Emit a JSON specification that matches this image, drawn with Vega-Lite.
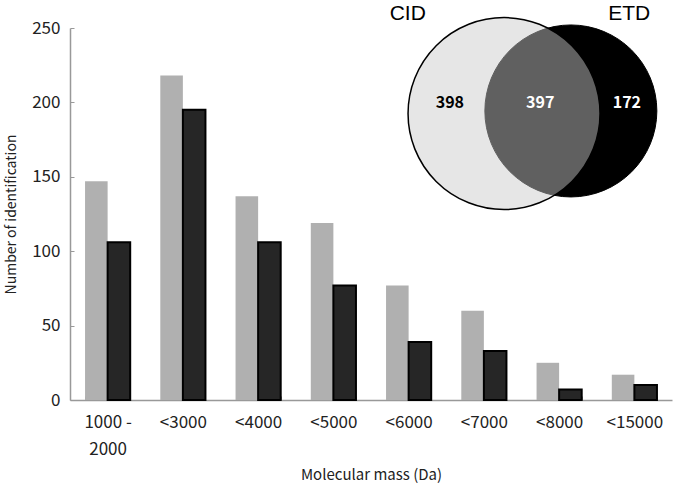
{
  "$schema": "https://vega.github.io/schema/vega-lite/v6.json",
  "autosize": "none",
  "width": 602,
  "height": 372,
  "padding": {"left": 70, "top": 28, "right": 4, "bottom": 88},
  "background": "white",
  "config": {"view": {"stroke": null}, "axis": {"grid": false}},
  "datasets": {
    "bars": [
      {"mass": "1000 - 2000", "series": "CID", "count": 147},
      {"mass": "1000 - 2000", "series": "ETD", "count": 106},
      {"mass": "<3000", "series": "CID", "count": 218},
      {"mass": "<3000", "series": "ETD", "count": 195},
      {"mass": "<4000", "series": "CID", "count": 137},
      {"mass": "<4000", "series": "ETD", "count": 106},
      {"mass": "<5000", "series": "CID", "count": 119},
      {"mass": "<5000", "series": "ETD", "count": 77},
      {"mass": "<6000", "series": "CID", "count": 77},
      {"mass": "<6000", "series": "ETD", "count": 39},
      {"mass": "<7000", "series": "CID", "count": 60},
      {"mass": "<7000", "series": "ETD", "count": 33},
      {"mass": "<8000", "series": "CID", "count": 25},
      {"mass": "<8000", "series": "ETD", "count": 7},
      {"mass": "<15000", "series": "CID", "count": 17},
      {"mass": "<15000", "series": "ETD", "count": 10}
    ],
    "circles": [
      {"set": "ETD", "cx": 83.2, "cy": 77.7},
      {"set": "CID", "cx": 72.1, "cy": 77.0}
    ],
    "names": [
      {"label": "CID", "tx": 56.1, "ty": 103.8},
      {"label": "ETD", "tx": 92.9, "ty": 103.8}
    ],
    "counts": [
      {"label": "398", "region": "CID only", "tx": 63.1, "ty": 79.8},
      {"label": "397", "region": "both", "tx": 78.1, "ty": 79.8},
      {"label": "172", "region": "ETD only", "tx": 92.5, "ty": 79.8}
    ]
  },
  "layer": [
    {
      "data": {"name": "bars"},
      "mark": {"type": "bar", "stroke": "black"},
      "encoding": {
        "x": {
          "field": "mass", "type": "nominal", "sort": null,
          "scale": {"paddingInner": 0.4, "paddingOuter": 0.2},
          "axis": {
            "title": "Molecular mass (Da)",
            "labelAngle": 0,
            "tickBand": "extent",
            "tickSize": -4,
            "tickColor": "#999",
            "domainColor": "#999",
            "domainWidth": 1.5,
            "labelPadding": 18,
            "labelFont": "Noto Sans CJK JP",
            "labelFontSize": 17,
            "labelColor": "#222",
            "labelLineHeight": 27,
            "labelExpr": "datum.value == '1000 - 2000' ? ['1000 -', '2000'] : datum.value",
            "titleFont": "Noto Sans CJK JP",
            "titleFontSize": 15,
            "titleFontWeight": "normal",
            "titleColor": "#222",
            "titleY": 74,
            "titleBaseline": "middle"
          }
        },
        "xOffset": {"field": "series", "type": "nominal", "scale": {"paddingInner": 0}},
        "y": {
          "field": "count", "type": "quantitative",
          "scale": {"domain": [0, 250], "nice": false},
          "axis": {
            "title": "Number of identification",
            "values": [0, 50, 100, 150, 200, 250],
            "tickSize": -4,
            "tickColor": "#999",
            "domainColor": "#999",
            "domainWidth": 1.5,
            "labelPadding": 14,
            "labelFont": "Noto Sans CJK JP",
            "labelFontSize": 17,
            "labelColor": "#222",
            "titleFont": "Noto Sans CJK JP",
            "titleFontSize": 14,
            "titleFontWeight": "normal",
            "titleColor": "#222",
            "titleX": -59,
            "titleBaseline": "middle"
          }
        },
        "color": {"field": "series", "type": "nominal", "scale": {"domain": ["CID", "ETD"], "range": ["#b0b0b0", "#262626"]}, "legend": null},
        "strokeWidth": {"condition": {"test": "datum.series === 'ETD'", "value": 2}, "value": 0}
      }
    },
    {
      "layer": [
        {
          "data": {"name": "circles"},
          "transform": [{"filter": "datum.set === 'ETD'"}],
          "mark": {"type": "point", "shape": "circle", "filled": true, "fill": "black", "fillOpacity": 1, "stroke": "black", "strokeWidth": 1, "size": 29584},
          "encoding": {
            "x": {"field": "cx", "type": "quantitative", "scale": {"domain": [0, 100], "nice": false, "zero": false}, "axis": null},
            "y": {"field": "cy", "type": "quantitative", "scale": {"domain": [0, 100], "nice": false, "zero": false}, "axis": null}
          }
        },
        {
          "data": {"name": "circles"},
          "transform": [{"filter": "datum.set === 'CID'"}],
          "mark": {"type": "point", "shape": "circle", "filled": true, "fill": "#cacaca", "fillOpacity": 0.475, "stroke": "black", "strokeOpacity": 1, "strokeWidth": 1.5, "size": 36864},
          "encoding": {
            "x": {"field": "cx", "type": "quantitative", "scale": {"domain": [0, 100], "nice": false, "zero": false}, "axis": null},
            "y": {"field": "cy", "type": "quantitative", "scale": {"domain": [0, 100], "nice": false, "zero": false}, "axis": null}
          }
        },
        {
          "data": {"name": "names"},
          "mark": {"type": "text", "font": "Liberation Sans", "fontSize": 21, "color": "black", "baseline": "middle", "align": "center"},
          "encoding": {
            "x": {"field": "tx", "type": "quantitative", "scale": {"domain": [0, 100], "nice": false, "zero": false}, "axis": null},
            "y": {"field": "ty", "type": "quantitative", "scale": {"domain": [0, 100], "nice": false, "zero": false}, "axis": null},
            "text": {"field": "label"}
          }
        },
        {
          "data": {"name": "counts"},
          "mark": {"type": "text", "font": "Noto Sans CJK JP", "fontSize": 16, "fontWeight": "bold", "baseline": "middle", "align": "center"},
          "encoding": {
            "x": {"field": "tx", "type": "quantitative", "scale": {"domain": [0, 100], "nice": false, "zero": false}, "axis": null},
            "y": {"field": "ty", "type": "quantitative", "scale": {"domain": [0, 100], "nice": false, "zero": false}, "axis": null},
            "text": {"field": "label"},
            "color": {"field": "region", "type": "nominal", "scale": {"domain": ["CID only", "both", "ETD only"], "range": ["black", "white", "white"]}, "legend": null}
          }
        }
      ]
    }
  ],
  "resolve": {"scale": {"x": "independent", "y": "independent", "color": "independent"}}
}
